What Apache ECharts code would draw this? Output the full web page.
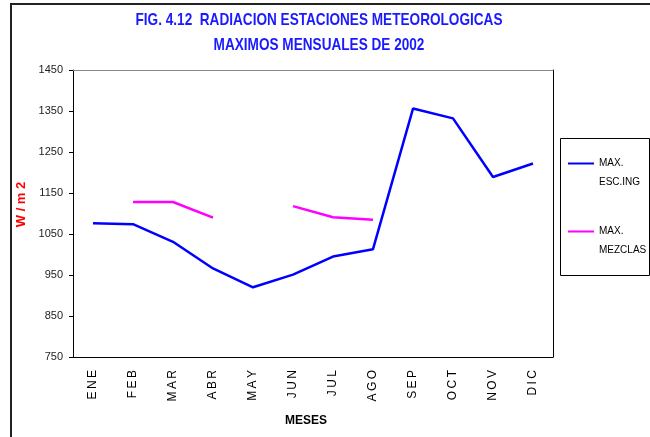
<!DOCTYPE html>
<html>
<head>
<meta charset="utf-8">
<script src="https://cdn.jsdelivr.net/npm/echarts@6/dist/echarts.min.js"></script>
<style>
  html, body { margin: 0; padding: 0; background: #fff; }
  #chart { width: 650px; height: 437px; }
</style>
</head>
<body>
<div id="chart"></div>
<script>
// meses y valores
var meses = ['ENE', 'FEB', 'MAR', 'ABR', 'MAY', 'JUN', 'JUL', 'AGO', 'SEP', 'OCT', 'NOV', 'DIC'];
var maxEscIng = [1076, 1074, 1031, 966, 920, 951, 995, 1013, 1356, 1332, 1189, 1222];
var maxMezclas = [null, 1128, 1128, 1090, null, 1118, 1091, 1085, null, null, null, null];
var yTicks = [750, 850, 950, 1050, 1150, 1250, 1350, 1450];
var titulo = ['FIG. 4.12  RADIACION ESTACIONES METEOROLOGICAS', 'MAXIMOS MENSUALES DE 2002'];

var font = '"Liberation Sans Narrow", "Liberation Sans", Arial, sans-serif';
var myChart = echarts.init(document.getElementById('chart'));

// titulo angosto (simula Arial Narrow)
var tituloGraphic = titulo.map(function (t, i) {
  return {
    type: 'text',
    x: 319,
    y: 20 + i * 25,
    scaleX: 0.8,
    style: {
      text: t,
      x: 0,
      y: 0,
      align: 'center',
      verticalAlign: 'middle',
      fill: '#1a1aff',
      font: 'bold 17px ' + font
    }
  };
});

var option = {
  backgroundColor: '#fff',
  animation: false,
  grid: { left: 73, right: 97, top: 70, bottom: 80, containLabel: false },
  legend: {
    orient: 'vertical',
    left: 563,
    top: 130,
    itemWidth: 26,
    itemHeight: 2,
    itemGap: 11,
    icon: 'rect',
    formatter: function (name) { return ' \n' + name; },
    textStyle: {
      fontFamily: font,
      fontSize: 10,
      color: '#000',
      lineHeight: 19
    },
    data: ['MAX.\nESC.ING', 'MAX.\nMEZCLAS']
  },
  xAxis: [{
    type: 'category',
    data: meses,
    boundaryGap: true,
    name: 'MESES',
    nameLocation: 'middle',
    nameGap: 58,
    nameTextStyle: { fontFamily: font, fontWeight: 'bold', fontSize: 12, color: '#000', padding: [0, 14, 0, 0] },
    axisLine: { lineStyle: { color: '#000', width: 1 } },
    axisTick: { show: false },
    axisLabel: {
      rotate: 90,
      margin: 13,
      fontFamily: font,
      fontSize: 12,
      color: '#000',
      formatter: function (v) { return v.split('').join('\u2009'); }
    }
  }, {
    type: 'category',
    position: 'top',
    data: meses,
    axisLine: { lineStyle: { color: '#888', width: 1 } },
    axisTick: { show: false },
    axisLabel: { show: false }
  }],
  yAxis: [{
    type: 'value',
    min: 750,
    max: 1450,
    interval: 100,
    name: 'W / m 2',
    nameLocation: 'middle',
    nameGap: 45,
    nameTextStyle: { fontFamily: font, fontWeight: 'bold', fontSize: 13, color: '#ff0000', padding: [0, 0, 0, 18] },
    axisLine: { show: true, lineStyle: { color: '#000', width: 1 } },
    axisTick: { show: true, length: 4, inside: false, lineStyle: { color: '#000' } },
    splitLine: { show: false },
    axisLabel: {
      margin: 10,
      fontFamily: font,
      fontSize: 11,
      color: '#222',
      formatter: function (v) { return yTicks.indexOf(v) >= 0 ? String(v) : ''; }
    }
  }, {
    type: 'value',
    position: 'right',
    min: 750,
    max: 1450,
    interval: 100,
    axisLine: { show: true, lineStyle: { color: '#000', width: 1 } },
    axisTick: { show: false },
    axisLabel: { show: false },
    splitLine: { show: false }
  }],
  series: [{
    name: 'MAX.\nESC.ING',
    type: 'line',
    data: maxEscIng,
    symbol: 'none',
    lineStyle: { color: '#0000ff', width: 2.5 },
    itemStyle: { color: '#0000ff' }
  }, {
    name: 'MAX.\nMEZCLAS',
    type: 'line',
    data: maxMezclas,
    connectNulls: false,
    symbol: 'none',
    lineStyle: { color: '#ff00ff', width: 2.5 },
    itemStyle: { color: '#ff00ff' }
  }],
  graphic: tituloGraphic.concat([{
    type: 'rect',
    shape: { x: 560.5, y: 138.5, width: 89, height: 137 },
    style: { fill: 'none', stroke: '#000', lineWidth: 1 },
    z: 0
  }, {
    type: 'polyline',
    shape: { points: [[11, 437], [11, 4], [650, 4]] },
    style: { fill: 'none', stroke: '#222', lineWidth: 2 }
  }])
};
myChart.setOption(option);
</script>
</body>
</html>
